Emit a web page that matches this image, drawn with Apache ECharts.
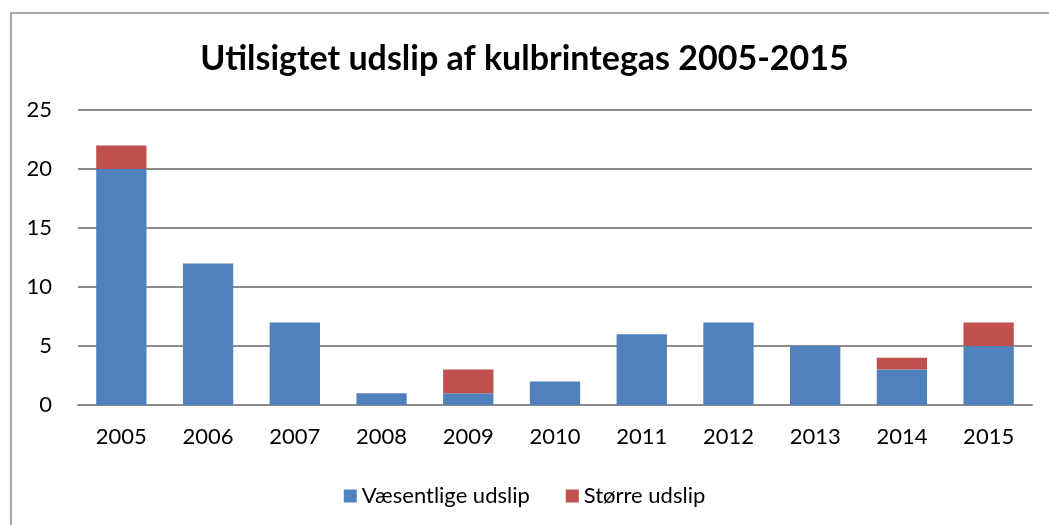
<!DOCTYPE html>
<html>
<head>
<meta charset="utf-8">
<script src="https://cdn.jsdelivr.net/npm/echarts@6/dist/echarts.min.js"></script>
<style>html,body{margin:0;padding:0;background:#fff;}#c{width:1049px;height:525px;}</style>
</head>
<body>
<div id="c"></div>
<script>
var years = ['2005','2006','2007','2008','2009','2010','2011','2012','2013','2014','2015'];
var vaesentlige = [20, 12, 7, 1, 1, 2, 6, 7, 5, 3, 5];
var stoerre = [2, 0, 0, 0, 2, 0, 0, 0, 0, 1, 2];
var yTicks = [0, 5, 10, 15, 20, 25];

var chart = echarts.init(document.getElementById('c'));
var font = 'Lato, "Open Sans", sans-serif';
chart.setOption({
  animation: false,
  backgroundColor: '#fff',
  title: {
    text: 'Utilsigtet udslip af kulbrintegas 2005-2015',
    left: 'center', top: 37,
    textStyle: {fontFamily: font, fontSize: 34, fontWeight: 'bold', color: '#000'}
  },
  graphic: [{
    type: 'rect', shape: {x: 11, y: 13, width: 1060, height: 560},
    style: {fill: 'none', stroke: '#a6a6a6', lineWidth: 2}, silent: true
  }],
  legend: {
    top: 480, left: 'center', itemWidth: 13, itemHeight: 13, itemGap: 36,
    icon: 'rect',
    textStyle: {fontFamily: font, fontSize: 22, color: '#000'},
    data: ['Væsentlige udslip', 'Større udslip']
  },
  grid: {left: 78, right: 17, top: 110, bottom: 120, containLabel: false},
  xAxis: {
    type: 'category', data: years,
    axisLine: {lineStyle: {color: '#8c8c8c', width: 2}},
    axisTick: {show: false},
    axisLabel: {fontFamily: font, fontSize: 22, color: '#000', margin: 21}
  },
  yAxis: {
    type: 'value', min: 0, max: 25, interval: 5,
    axisLine: {show: false}, axisTick: {show: false},
    axisLabel: {fontFamily: font, fontSize: 22, color: '#000', margin: 26,
      formatter: function (v) { return yTicks.indexOf(v) >= 0 ? String(v) : ''; }},
    splitLine: {lineStyle: {color: '#8c8c8c', width: 2}}
  },
  series: [
    {name: 'Væsentlige udslip', type: 'bar', stack: 's', data: vaesentlige,
      barWidth: '58%', itemStyle: {color: '#4F81BD'}},
    {name: 'Større udslip', type: 'bar', stack: 's', data: stoerre,
      barWidth: '58%', itemStyle: {color: '#C0504D'}}
  ]
});
</script>
</body>
</html>
